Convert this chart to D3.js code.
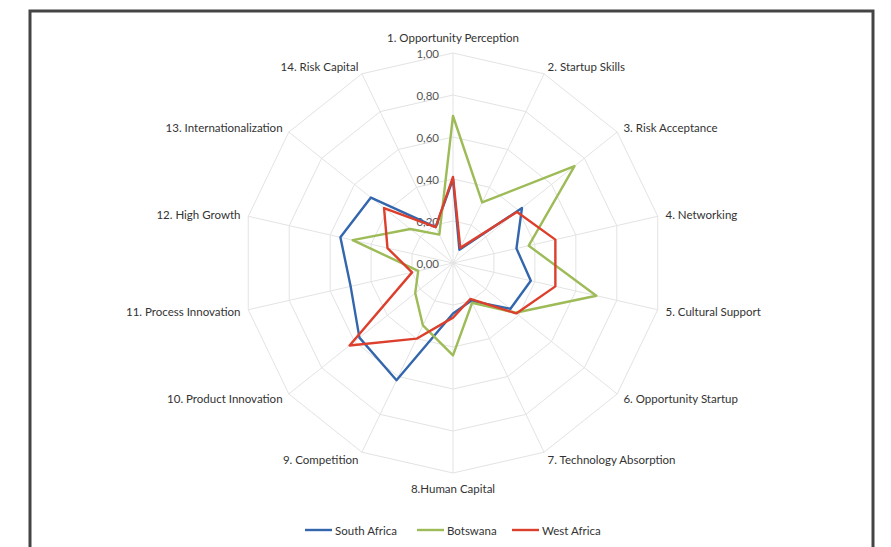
<!DOCTYPE html>
<html>
<head>
<meta charset="utf-8">
<script src="https://cdn.jsdelivr.net/npm/d3@7"></script>
<style>
  html, body { margin: 0; padding: 0; background: #fff; }
  svg { display: block; font-family: Lato, "Liberation Sans", sans-serif; }
</style>
</head>
<body>
<svg id="chart" width="891" height="547"></svg>
<script>
// Entrepreneurship pillars (14 axes), scores 0..1
const categories = [
  "1. Opportunity Perception", "2. Startup Skills", "3. Risk Acceptance",
  "4. Networking", "5. Cultural Support", "6. Opportunity Startup",
  "7. Technology Absorption", "8.Human Capital", "9. Competition",
  "10. Product Innovation", "11. Process Innovation", "12. High Growth",
  "13. Internationalization", "14. Risk Capital"
];
const seriesNames = ["South Africa", "Botswana", "West Africa"];
const southAfrica = [0.40, 0.07, 0.42, 0.31, 0.38, 0.35, 0.20, 0.24, 0.62, 0.57, 0.50, 0.55, 0.50, 0.19];
const botswana    = [0.70, 0.32, 0.74, 0.37, 0.70, 0.38, 0.21, 0.44, 0.33, 0.23, 0.17, 0.49, 0.26, 0.15];
const westAfrica  = [0.41, 0.08, 0.39, 0.50, 0.50, 0.385, 0.19, 0.26, 0.40, 0.63, 0.20, 0.32, 0.42, 0.19];
const tickValues = [0, 0.2, 0.4, 0.6, 0.8, 1.0];
const tickLabels = ["0,00", "0,20", "0,40", "0,60", "0,80", "1,00"];
const colors = ["#3366ad", "#9dbb57", "#dc3f2c"];

const series = [southAfrica, botswana, westAfrica];

const svg = d3.select("#chart");
const cx = 453, cy = 263, R = 210;
const fontSize = 11.5;

// Outer frame
svg.append("rect")
  .attr("x", 30).attr("y", 11).attr("width", 843).attr("height", 570)
  .attr("fill", "none").attr("stroke", "#444").attr("stroke-width", 3);

const g = svg.append("g").attr("transform", `translate(${cx},${cy})`);

const r = d3.scaleLinear().domain([0, 1]).range([0, R]);
const angle = d3.scaleLinear().domain([0, categories.length]).range([0, 2 * Math.PI]);
const pt = (i, v) => [Math.sin(angle(i)) * r(v), -Math.cos(angle(i)) * r(v)];

// Gridline polygons
const idx = d3.range(categories.length);
tickValues.filter(t => t > 0).forEach(t => {
  g.append("path")
    .attr("d", d3.line()(idx.map(i => pt(i, t))) + "Z")
    .attr("fill", "none").attr("stroke", "#e3e3e3").attr("stroke-width", 1);
});

// Spokes
g.selectAll("line.spoke").data(idx).join("line")
  .attr("class", "spoke")
  .attr("x1", 0).attr("y1", 0)
  .attr("x2", i => pt(i, 1)[0]).attr("y2", i => pt(i, 1)[1])
  .attr("stroke", "#e3e3e3").attr("stroke-width", 1);

// Radial value labels
g.selectAll("text.tick").data(tickValues).join("text")
  .attr("class", "tick")
  .attr("x", -14).attr("y", d => -r(d))
  .attr("text-anchor", "end").attr("dominant-baseline", "central")
  .attr("font-size", fontSize).attr("fill", "#555")
  .text((d, i) => tickLabels[i]);

// Category labels around the web
g.selectAll("text.cat").data(categories).join("text")
  .attr("class", "cat")
  .each(function (d, i) {
    const a = angle(i);
    const s = Math.sin(a), c = Math.cos(a);
    const rr = R + 8;
    let x = s * rr, y = -c * rr;
    const el = d3.select(this);
    el.attr("dominant-baseline", "central");
    if (Math.abs(s) < 0.01) {
      el.attr("text-anchor", "middle");
      y = c > 0 ? -R - 16 : R + 15;
    } else {
      el.attr("text-anchor", s > 0 ? "start" : "end");
    }
    el.attr("x", x).attr("y", y);
  })
  .attr("font-size", fontSize).attr("fill", "#333")
  .text(d => d);

// Series lines
const radial = d3.lineRadial()
  .angle((d, i) => angle(i))
  .radius(d => r(d))
  .curve(d3.curveLinearClosed);

g.selectAll("path.series").data(series).join("path")
  .attr("class", "series")
  .attr("d", d => radial(d))
  .attr("fill", "none")
  .attr("stroke", (d, i) => colors[i])
  .attr("stroke-width", 2.4)
  .attr("stroke-linejoin", "round");

// Legend
const legendX = [305, 417, 512];
const legend = svg.append("g").attr("transform", "translate(0,530)");
seriesNames.forEach((name, i) => {
  legend.append("line")
    .attr("x1", legendX[i]).attr("x2", legendX[i] + 27)
    .attr("y1", 0).attr("y2", 0)
    .attr("stroke", colors[i]).attr("stroke-width", 2.4);
  legend.append("text")
    .attr("x", legendX[i] + 30).attr("y", 0)
    .attr("dominant-baseline", "central")
    .attr("font-size", fontSize).attr("fill", "#333")
    .text(name);
});
</script>
</body>
</html>
